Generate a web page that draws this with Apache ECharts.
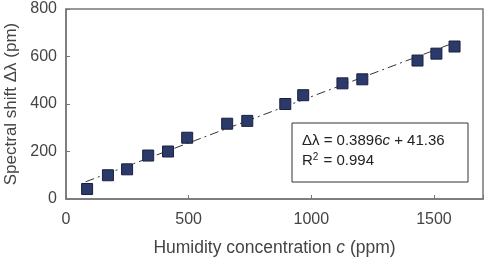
<!DOCTYPE html>
<html>
<head>
<meta charset="utf-8">
<script src="https://cdn.jsdelivr.net/npm/echarts@6/dist/echarts.min.js"></script>
<style>
  html, body { margin: 0; padding: 0; background: #fff; }
  #chart { width: 489px; height: 261px; }
</style>
</head>
<body>
<div id="chart"></div>
<script>
// measured humidity concentration (ppm) and spectral shift (pm)
const concentration = [86, 171, 249, 335, 416, 494, 657, 739, 894, 967, 1127, 1208, 1433, 1510, 1584];
const spectralShift = [42, 100, 125, 183, 200, 258, 317, 329, 400, 437, 487, 504, 583, 612, 642];

// linear fit: dl = 0.3896 c + 41.36
const fitSlope = 0.3896;
const fitOffset = 41.36;
const fitRange = [80, 1590];

const xTicks = [0, 500, 1000, 1500];
const yTicks = [0, 200, 400, 600, 800];

const chart = echarts.init(document.getElementById("chart"));

const points = concentration.map((c, i) => [c, spectralShift[i]]);
const fitLine = fitRange.map((c) => [c, fitSlope * c + fitOffset]);

const font = "Liberation Sans, Arial, sans-serif";

const option = {
  animation: false,
  grid: { left: 66, right: 6, top: 9, bottom: 62, outerBoundsMode: "none", containLabel: false },
  xAxis: {
    type: "value",
    min: 0,
    max: 1700,
    interval: 500,
    name: "Humidity concentration {i|c} (ppm)",
    nameLocation: "middle",
    nameGap: 40,
    nameTextStyle: {
      fontFamily: font,
      fontSize: 17.5,
      color: "#444",
      rich: { i: { fontStyle: "italic", fontFamily: font, fontSize: 17.5, color: "#444" } },
    },
    axisLine: { show: true, lineStyle: { color: "#777", width: 1.5 } },
    axisTick: { show: true, inside: true, length: 4, lineStyle: { color: "#777" } },
    axisLabel: {
      fontFamily: font,
      fontSize: 16,
      color: "#444",
      margin: 13,
      formatter: (v) => (xTicks.includes(v) ? String(v) : ""),
    },
    splitLine: { show: false },
  },
  yAxis: {
    type: "value",
    min: 0,
    max: 800,
    interval: 200,
    name: "Spectral shift Δλ (pm)",
    nameLocation: "middle",
    nameGap: 46,
    nameTextStyle: { fontFamily: font, fontSize: 17, color: "#444" },
    axisLine: { show: true, lineStyle: { color: "#777", width: 1.5 } },
    axisTick: { show: true, inside: true, length: 4, lineStyle: { color: "#777" } },
    axisLabel: {
      fontFamily: font,
      fontSize: 16,
      color: "#444",
      margin: 9,
      formatter: (v) => (yTicks.includes(v) ? String(v) : ""),
    },
    splitLine: { show: false },
  },
  series: [
    {
      type: "line",
      data: fitLine,
      symbol: "none",
      silent: true,
      lineStyle: { color: "#333", width: 1, type: [9, 4, 2, 4] },
      z: 1,
    },
    {
      type: "scatter",
      data: points,
      symbol: "rect",
      symbolSize: 11,
      itemStyle: { color: "#2b3a6b", borderColor: "#18213f", borderWidth: 1, opacity: 1 },
      z: 3,
    },
  ],
  graphic: [
    {
      type: "rect",
      shape: { x: 66, y: 9, width: 417, height: 190 },
      style: { fill: "none", stroke: "#777", lineWidth: 1.5 },
      silent: true,
    },
    {
      type: "rect",
      shape: { x: 292, y: 123, width: 176, height: 59 },
      style: { fill: "#fff", stroke: "#333", lineWidth: 1 },
      z: 10,
    },
    {
      type: "text",
      left: 302,
      top: 133,
      z: 11,
      style: {
        text: "Δλ = 0.3896{i|c} + 41.36",
        font: "15px Liberation Sans, Arial, sans-serif",
        fill: "#222",
        rich: { i: { fontStyle: "italic", fontSize: 15, fontFamily: font, fill: "#222" } },
      },
    },
    {
      type: "text",
      left: 302,
      top: 152,
      z: 11,
      style: {
        text: "R{s|2} = 0.994",
        font: "15px Liberation Sans, Arial, sans-serif",
        fill: "#222",
        rich: { s: { fontSize: 10, fontFamily: font, fill: "#222", verticalAlign: "top", padding: [0, 1, 8, 0] } },
      },
    },
  ],
};

chart.setOption(option);
</script>
</body>
</html>
